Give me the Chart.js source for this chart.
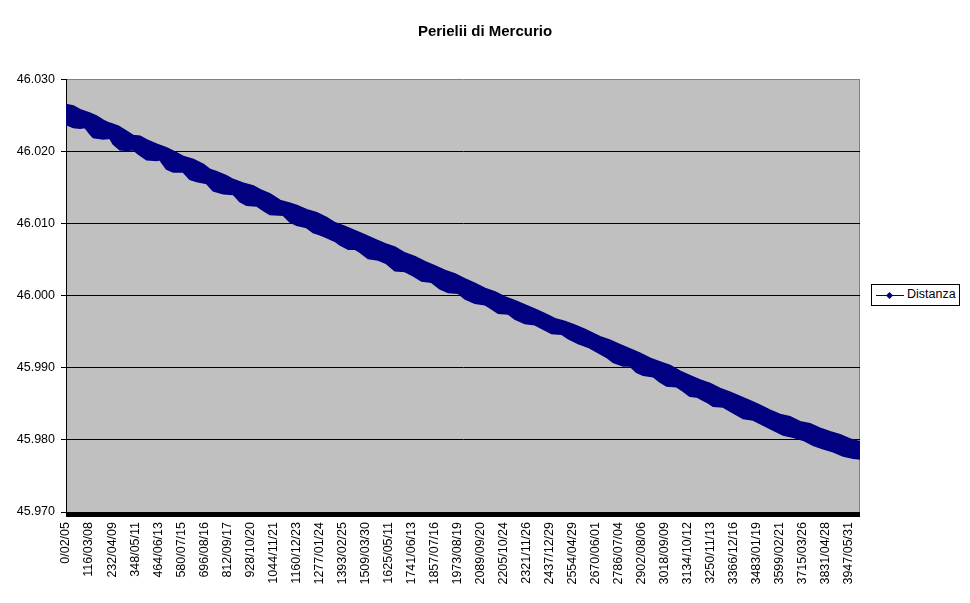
<!DOCTYPE html>
<html>
<head>
<meta charset="utf-8">
<script src="https://cdn.jsdelivr.net/npm/chart.js@4/dist/chart.umd.min.js"></script>
<style>
html,body{margin:0;padding:0;background:#fff;}
#wrap{position:relative;width:970px;height:603px;}
#legend{position:absolute;left:871px;top:284px;width:87px;height:20px;border:1px solid #000;background:#fff;}
#legend svg{position:absolute;left:4px;top:0;}
#legend span{position:absolute;left:35px;top:2px;line-height:20px;font:12.5px "Liberation Sans",Arial,sans-serif;color:#000;white-space:nowrap;}
</style>
</head>
<body>
<div id="wrap">
<canvas id="c" width="970" height="603"></canvas>
<div id="legend">
<svg width="30" height="20" viewBox="0 0 30 20"><line x1="0" y1="10.5" x2="28" y2="10.5" stroke="#000080" stroke-width="1"/><polygon points="13.5,7 17,10.5 13.5,14 10,10.5" fill="#000080"/></svg>
<span id="legendText"></span>
</div>
</div>
<script>
const chartTitle = 'Perielii di Mercurio';
const seriesName = 'Distanza';

const tickLabels = ['0/02/05','116/03/08','232/04/09','348/05/11','464/06/13','580/07/15','696/08/16','812/09/17','928/10/20','1044/11/21','1160/12/23','1277/01/24','1393/02/25','1509/03/30','1625/05/11','1741/06/13','1857/07/16','1973/08/19','2089/09/20','2205/10/24','2321/11/26','2437/12/29','2554/04/29','2670/06/01','2786/07/04','2902/08/06','3018/09/09','3134/10/12','3250/11/13','3366/12/16','3483/01/19','3599/02/21','3715/03/26','3831/04/28','3947/05/31'];
const perihelionsPerLabel = 482;
const totalPerihelions = 16620;

const yMin = 45.970, yMax = 46.030, yStep = 0.010;

// upper envelope of the plotted band (perihelion number, distance)
const upperIdx = [0,153,293,502,643,781,921,1095,1270,1409,1549,1689,1898,2108,2317,2455,2664,2874,3014,3154,3363,3502,3711,3920,4060,4270,4479,4688,4829,5038,5247,5456,5630,5839,6049,6258,6467,6677,6886,7095,7305,7514,7723,7932,8142,8351,8560,8770,8979,9188,9398,9607,9816,10025,10235,10444,10653,10863,11176,11386,11595,11805,12014,12223,12432,12642,12851,13060,13270,13479,13688,13898,14107,14316,14525,14735,14944,15153,15363,15572,15781,15991,16200,16409,16620];
const upperVal = [46.0265,46.0263,46.0258,46.0253,46.0249,46.0243,46.0239,46.0235,46.0228,46.0222,46.0221,46.0216,46.0210,46.0205,46.0198,46.0193,46.0189,46.0182,46.0175,46.0172,46.0166,46.0161,46.0156,46.0152,46.0147,46.0141,46.0132,46.0128,46.0125,46.0119,46.0115,46.0108,46.0101,46.0096,46.0090,46.0084,46.0078,46.0072,46.0067,46.0059,46.0054,46.0047,46.0041,46.0035,46.0030,46.0023,46.0017,46.0010,46.0005,45.9998,45.9993,45.9987,45.9981,45.9975,45.9968,45.9964,45.9959,45.9953,45.9943,45.9938,45.9932,45.9926,45.9920,45.9913,45.9908,45.9903,45.9895,45.9889,45.9883,45.9878,45.9871,45.9866,45.9860,45.9854,45.9848,45.9841,45.9835,45.9832,45.9825,45.9822,45.9816,45.9811,45.9807,45.9801,45.9797];

// lower envelope of the plotted band
const lowerIdx = [0,153,293,398,502,571,781,921,990,1130,1270,1409,1513,1689,1898,1967,2108,2246,2455,2595,2735,2945,3083,3292,3502,3642,3782,3991,4129,4270,4548,4688,4829,5038,5176,5316,5421,5630,5735,5909,6049,6153,6327,6536,6712,6886,7095,7269,7445,7654,7828,8001,8211,8351,8560,8770,8910,9048,9257,9398,9607,9816,9956,10166,10375,10513,10723,10932,11176,11317,11455,11664,11805,11945,12083,12292,12432,12573,12782,12920,13060,13200,13409,13548,13757,13966,14176,14385,14594,14803,15013,15222,15432,15641,15850,16060,16269,16478,16620];
const lowerVal = [46.0238,46.0234,46.0233,46.0234,46.0225,46.0220,46.0218,46.0219,46.0211,46.0203,46.0202,46.0203,46.0197,46.0189,46.0188,46.0189,46.0176,46.0172,46.0172,46.0162,46.0159,46.0156,46.0146,46.0142,46.0141,46.0131,46.0126,46.0125,46.0119,46.0113,46.0112,46.0103,46.0098,46.0095,46.0088,46.0085,46.0082,46.0076,46.0071,46.0065,46.0065,46.0061,46.0052,46.0050,46.0045,46.0035,46.0034,46.0028,46.0021,46.0019,46.0010,46.0005,46.0004,45.9996,45.9990,45.9988,45.9982,45.9976,45.9975,45.9968,45.9962,45.9960,45.9955,45.9948,45.9947,45.9941,45.9934,45.9929,45.9920,45.9915,45.9908,45.9903,45.9903,45.9894,45.9890,45.9888,45.9881,45.9875,45.9874,45.9868,45.9861,45.9860,45.9853,45.9847,45.9846,45.9838,45.9830,45.9828,45.9821,45.9814,45.9807,45.9804,45.9800,45.9793,45.9788,45.9784,45.9778,45.9775,45.9774];

const FONT = '"Liberation Sans", Arial, sans-serif';
const NAVY = '#000080';

document.getElementById('legendText').textContent = seriesName;

function toPoints(xs, ys) {
  const n = Math.min(xs.length, ys.length);
  const out = [];
  for (let i = 0; i < n; i++) out.push({x: xs[i], y: ys[i]});
  return out;
}

const plotDecor = {
  id: 'plotDecor',
  beforeDraw(chart) {
    const {ctx, chartArea: a} = chart;
    ctx.save();
    ctx.fillStyle = '#C0C0C0';
    ctx.fillRect(a.left, a.top, a.right - a.left, a.bottom - a.top);
    ctx.strokeStyle = '#808080';
    ctx.lineWidth = 1;
    ctx.beginPath();
    const rx = Math.round(a.right) - 0.5;
    ctx.moveTo(rx, a.top);
    ctx.lineTo(rx, a.bottom);
    ctx.stroke();
    ctx.restore();
  },
  afterDraw(chart) {
    const {ctx, chartArea: a} = chart;
    ctx.save();
    ctx.fillStyle = '#000';
    ctx.fillRect(Math.round(a.left), Math.round(a.bottom), Math.round(a.right - a.left), 5);
    ctx.restore();
  }
};

new Chart(document.getElementById('c'), {
  type: 'line',
  data: {
    datasets: [
      {
        label: seriesName,
        data: toPoints(upperIdx, upperVal),
        borderColor: NAVY,
        backgroundColor: NAVY,
        borderWidth: 2,
        pointRadius: 0,
        tension: 0,
        fill: false
      },
      {
        label: seriesName,
        data: toPoints(lowerIdx, lowerVal),
        borderColor: NAVY,
        backgroundColor: NAVY,
        borderWidth: 2,
        pointRadius: 0,
        tension: 0,
        fill: '-1'
      }
    ]
  },
  options: {
    responsive: false,
    animation: false,
    devicePixelRatio: 1,
    layout: {padding: 0},
    plugins: {
      legend: {display: false},
      tooltip: {enabled: false},
      title: {
        display: true,
        text: chartTitle,
        color: '#000',
        font: {family: FONT, size: 15, weight: 'bold', lineHeight: 1.2},
        padding: {top: 23, bottom: 38.6}
      }
    },
    scales: {
      x: {
        type: 'linear',
        min: 0,
        max: totalPerihelions,
        grid: {display: false, drawTicks: false},
        border: {display: false},
        afterBuildTicks: (s) => {
          s.ticks = tickLabels.map((_, k) => ({value: k * perihelionsPerLabel}));
        },
        afterFit: (s) => { s.height = 91; },
        ticks: {
          autoSkip: false,
          minRotation: 90,
          maxRotation: 90,
          padding: 10,
          color: '#000',
          font: {family: FONT, size: 12.5},
          callback: (v, i) => tickLabels[i]
        }
      },
      y: {
        type: 'linear',
        min: yMin,
        max: yMax,
        afterFit: (s) => { s.width = 66; },
        grid: {
          color: (c) => (c.tick && Math.abs(c.tick.value - yMax) < 1e-9) ? '#808080' : '#000',
          tickColor: '#000',
          lineWidth: 1,
          drawTicks: true,
          tickLength: 5
        },
        border: {display: true, color: '#000', width: 1},
        ticks: {
          stepSize: yStep,
          padding: 6,
          color: '#000',
          font: {family: FONT, size: 12.5},
          callback: (v) => Number(v).toFixed(3)
        }
      },
      yRight: {
        type: 'linear',
        position: 'right',
        display: true,
        grid: {display: false, drawTicks: false},
        border: {display: false},
        ticks: {display: false},
        afterFit: (s) => { s.width = 110; }
      }
    }
  },
  plugins: [plotDecor]
});
</script>
</body>
</html>
